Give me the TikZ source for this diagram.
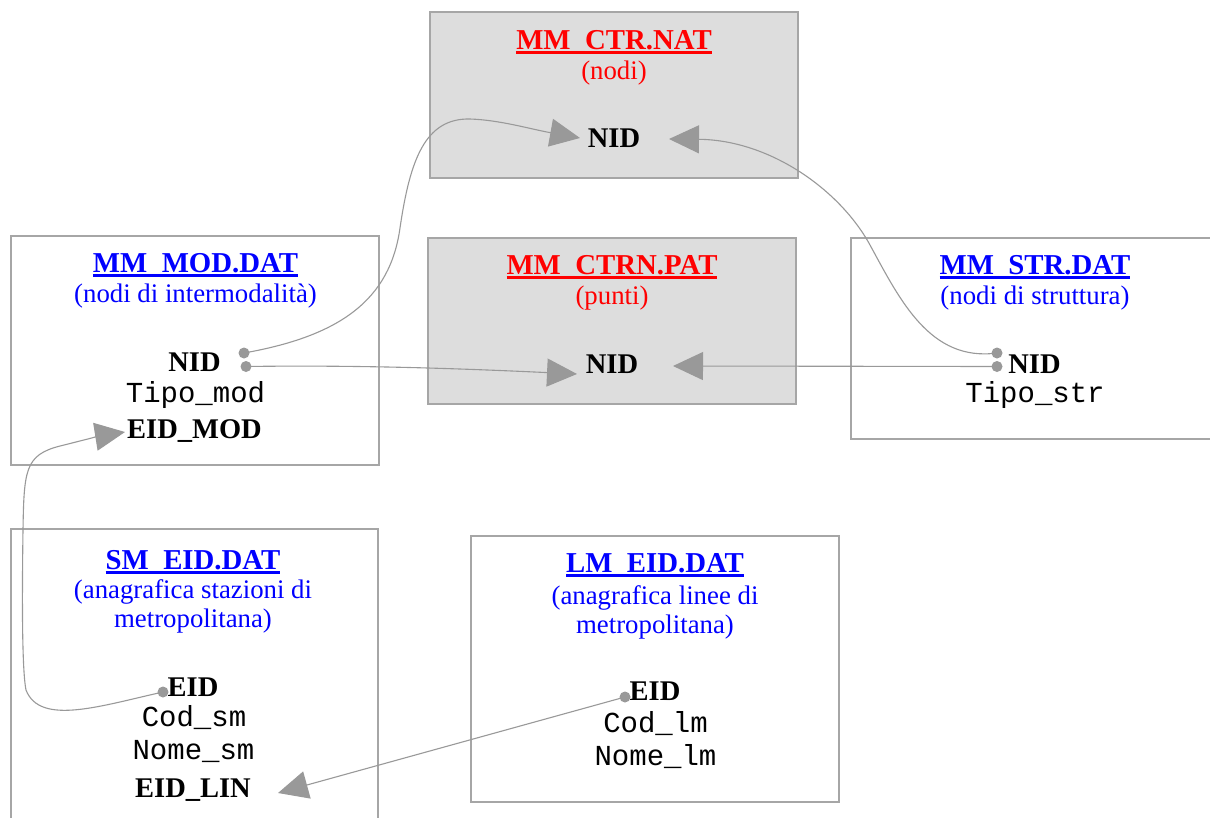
\documentclass[tikz,border=0pt]{standalone}
\usepackage{fontspec}
\setmainfont{Liberation Serif}
\setmonofont{Liberation Mono}
\usetikzlibrary{arrows.meta}
\definecolor{boxgray}{HTML}{A6A6A6}
\definecolor{fillgray}{HTML}{DDDDDD}
\definecolor{linkgray}{HTML}{999999}
\definecolor{fred}{HTML}{FF0000}
\definecolor{fblue}{HTML}{0000FF}
\newcommand\ulbar[1]{\setbox0\hbox{#1}\rlap{\rule[-5pt]{\wd0}{3pt}}\box0}
\begin{document}
\begin{tikzpicture}[x=1pt,y=-1pt,
  tbl/.style={draw=boxgray, line width=1.4pt, inner sep=0pt, outer sep=0pt},
  shaded/.style={tbl, fill=fillgray},
  ttl/.style={anchor=base, inner sep=0pt, font=\fontsize{28.8}{30}\selectfont\bfseries},
  subt/.style={anchor=base, inner sep=0pt, font=\fontsize{26.8}{30}\selectfont},
  keyf/.style={anchor=base, inner sep=0pt, font=\fontsize{28.5}{30}\selectfont\bfseries},
  fld/.style={anchor=base, inner sep=0pt, font=\fontsize{29}{30}\selectfont\ttfamily},
  lnk/.style={draw=linkgray, line width=1.1pt, -{Triangle[length=30pt,width=28pt,fill=linkgray]}},
  dotf/.style={circle, fill=linkgray, inner sep=0pt, minimum size=11pt}
]
\useasboundingbox (0,0) rectangle (1210,817);
\fill[white] (0,0) rectangle (1210,817);

% boxes
\node[shaded, minimum width=368pt, minimum height=166pt] (ctrnat) at (614,95) {};
\node[shaded, minimum width=368pt, minimum height=166pt] (ctrnpat) at (612,321) {};
\node[tbl, minimum width=368pt, minimum height=229pt] (mod) at (195,350.5) {};
\node[tbl, minimum width=368pt, minimum height=266pt] (lmeid) at (655,669) {};
\draw[draw=boxgray, line width=1.4pt] (1211,238) -- (851,238) -- (851,439) -- (1211,439);
\draw[draw=boxgray, line width=1.4pt] (11,818) -- (11,529) -- (378,529) -- (378,818);

% MM_CTR.NAT
\node[ttl, text=fred] (t1) at (614,49) {\ulbar{MM\_CTR.NAT}};
\node[subt, text=fred] (s1) at (614,79) {(nodi)};
\node[keyf] (k1) at (614,147) {NID};

% MM_CTRN.PAT
\node[ttl, text=fred] (t2) at (612,274) {\ulbar{MM\_CTRN.PAT}};
\node[subt, text=fred] (s2) at (612,304) {(punti)};
\node[keyf] (k2) at (612,373) {NID};

% MM_MOD.DAT
\node[ttl, text=fblue] (t3) at (195.5,272) {\ulbar{MM\_MOD.DAT}};
\node[subt, text=fblue] (s3) at (195.5,302) {(nodi di intermodalità)};
\node[keyf] (k3) at (194.5,371) {NID};
\node[fld] (f3) at (195.5,402) {Tipo\_mod};
\node[keyf] (e3) at (194.5,438) {EID\_MOD};

% MM_STR.DAT
\node[ttl, text=fblue] (t4) at (1035,274) {\ulbar{MM\_STR.DAT}};
\node[subt, text=fblue] (s4) at (1035,304) {(nodi di struttura)};
\node[keyf] (k4) at (1034.5,373) {NID};
\node[fld] (f4) at (1035,402) {Tipo\_str};

% SM_EID.DAT
\node[ttl, text=fblue] (t5) at (193,569) {\ulbar{SM\_EID.DAT}};
\node[subt, text=fblue] (s5a) at (193,598) {(anagrafica stazioni di};
\node[subt, text=fblue] (s5b) at (193,627) {metropolitana)};
\node[keyf] (k5) at (193,696) {EID};
\node[fld] (f5a) at (194,726) {Cod\_sm};
\node[fld] (f5b) at (193.5,759) {Nome\_sm};
\node[keyf] (e5) at (193,797) {EID\_LIN};

% LM_EID.DAT
\node[ttl, text=fblue] (t6) at (655,572) {\ulbar{LM\_EID.DAT}};
\node[subt, text=fblue] (s6a) at (655,604) {(anagrafica linee di};
\node[subt, text=fblue] (s6b) at (655,633) {metropolitana)};
\node[keyf] (k6) at (655,700) {EID};
\node[fld] (f6a) at (655.5,732) {Cod\_lm};
\node[fld] (f6b) at (655.5,765) {Nome\_lm};

% connector end points
\coordinate (modA) at (244,353);
\coordinate (modB) at (246,366.5);
\coordinate (strA) at (997,353);
\coordinate (strB) at (997,366.5);
\coordinate (smE) at (163,692);
\coordinate (lmE) at (625,697);
\coordinate (natL) at (580,138);
\coordinate (natR) at (669,139);
\coordinate (patL) at (577,374);
\coordinate (patR) at (673,366);
\coordinate (modE) at (125,432);
\coordinate (smL) at (278,793);

% connectors
\draw[lnk] (modA) .. controls (340,336) and (390,300) .. (400,228)
  .. controls (410,160) and (425,118) .. (470,119)
  .. controls (500,120) and (530,129) .. (natL);
\draw[lnk] (modB) .. controls (350,365) and (450,368) .. (patL);
\draw[lnk] (strA) .. controls (930,362) and (900,300) .. (870,245)
  .. controls (840,190) and (770,140) .. (natR);
\draw[lnk] (strB) -- (patR);
\draw[lnk] (smE) .. controls (100,706) and (40,726) .. (26,690)
  .. controls (22,670) and (22,600) .. (23,530)
  .. controls (24,470) and (25,455) .. (60,446)
  .. controls (80,441) and (100,436) .. (modE);
\draw[lnk] (lmE) -- (smL);

% dots
\node[dotf] (dmodA) at (modA) {};
\node[dotf] (dmodB) at (modB) {};
\node[dotf] (dstrA) at (strA) {};
\node[dotf] (dstrB) at (strB) {};
\node[dotf] (dsmE) at (smE) {};
\node[dotf] (dlmE) at (lmE) {};
\end{tikzpicture}
\end{document}
